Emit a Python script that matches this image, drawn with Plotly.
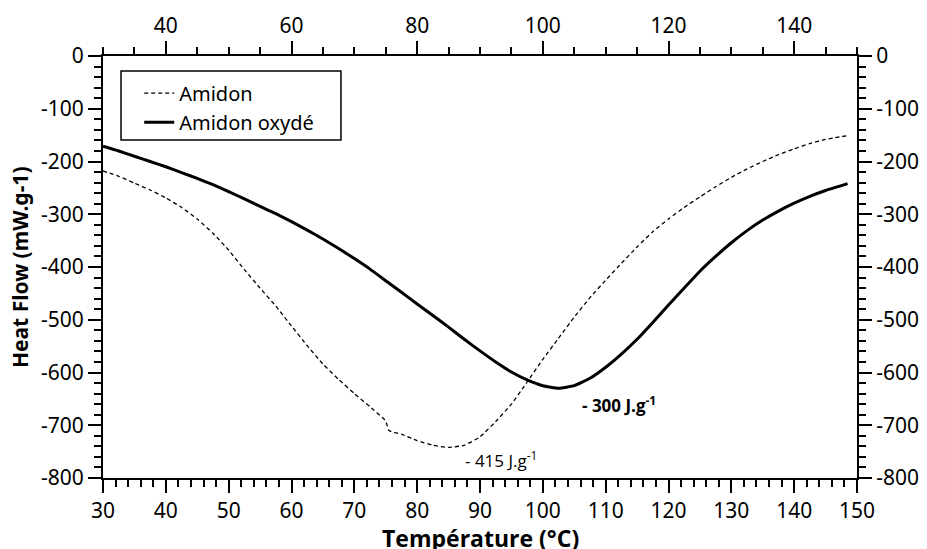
import plotly.graph_objects as go

# ---- data ----
temp_amidon = [30, 32.5, 35, 37.5, 40, 42.5, 45, 47.5, 50, 52.5, 55, 57.5, 60, 62.5, 65, 67.5,
               70, 72.5, 75, 75.5, 77.5, 80, 82.5, 85, 87.5, 90, 92.5, 95, 97.5, 100, 102.5,
               105, 107.5, 110, 112.5, 115, 117.5, 120, 122.5, 125, 127.5, 130, 132.5, 135,
               137.5, 140, 142.5, 145, 148.5]
hf_amidon = [-218, -228, -241, -254, -269, -287, -309, -336, -368, -405, -440, -474, -512, -549,
             -584, -613, -640, -665, -692, -710, -717, -729, -738, -742, -738, -722, -693, -660,
             -618, -575, -535, -495, -458, -425, -393, -362, -333, -309, -287, -267, -248, -230,
             -214, -200, -187, -176, -166, -158, -151]

temp_oxyde = [30, 32.5, 35, 37.5, 40, 42.5, 45, 47.5, 50, 52.5, 55, 57.5, 60, 62.5, 65, 67.5,
              70, 72.5, 75, 77.5, 80, 82.5, 85, 87.5, 90, 92.5, 95, 97.5, 100, 102.5, 105,
              107.5, 110, 112.5, 115, 117.5, 120, 122.5, 125, 127.5, 130, 132.5, 135, 137.5,
              140, 142.5, 145, 148.5]
hf_oxyde = [-171, -180, -190, -200, -210, -221, -232, -244, -257, -271, -285, -299, -314, -330,
            -347, -365, -384, -404, -426, -448, -470, -492, -514, -537, -559, -580, -599, -614,
            -625, -630, -625, -611, -590, -565, -537, -505, -472, -440, -408, -380, -354, -331,
            -311, -294, -279, -266, -255, -242]

x_range = [30, 150]
y_range = [-800, 0]
y_ticks = [0, -100, -200, -300, -400, -500, -600, -700, -800]
y_tick_labels = ['0', '-100', '-200', '-300', '-400', '-500', '-600', '-700', '-800']

series_names = ['Amidon', 'Amidon oxydé']
y_title = 'Heat Flow (mW.g-1)'
x_title = 'Température (°C)'
peak_labels = ['- 415 J.g<sup>-1</sup>', '<b>- 300 J.g<sup>-1</sup></b>']
peak_label_pos = [(87.3, -765), (105.9, -661)]

# ---- figure ----
fig = go.Figure()
fig.add_trace(go.Scatter(x=temp_amidon, y=hf_amidon, mode='lines', name=series_names[0],
                         line=dict(color='black', width=1.3, dash='4px,3px',
                                   shape='spline', smoothing=0.4)))
fig.add_trace(go.Scatter(x=temp_oxyde, y=hf_oxyde, mode='lines', name=series_names[1],
                         line=dict(color='black', width=3, shape='spline', smoothing=0.4)))
fig.add_trace(go.Scatter(x=[None], y=[None], xaxis='x2', yaxis='y2', showlegend=False,
                         hoverinfo='skip'))

tickfont = dict(family='Noto Sans', size=21, color='black')
common = dict(showline=True, linecolor='black', linewidth=2, ticks='outside', ticklen=13,
              tickwidth=2, tickcolor='black', showgrid=False, zeroline=False, tickfont=tickfont,
              automargin=False)
minor_common = dict(ticks='outside', ticklen=7, tickwidth=1.5, tickcolor='black', showgrid=False)

# the page body adds an 8px offset; margins compensate so the plot area lands where it should
fig.update_layout(
    width=927, height=549,
    margin=dict(l=95, r=78, t=48, b=79, autoexpand=False),
    paper_bgcolor='white', plot_bgcolor='white',
    xaxis=dict(range=x_range, tick0=30, dtick=10, minor=dict(dtick=2, tick0=30, **minor_common),
               **common),
    xaxis2=dict(range=x_range, overlaying='x', side='top', tick0=40, dtick=20,
                minor=dict(dtick=5, tick0=30, **minor_common), **common),
    yaxis=dict(range=y_range, tickmode='array', tickvals=y_ticks, ticktext=y_tick_labels,
               minor=dict(dtick=20, tick0=0, **minor_common), **common),
    yaxis2=dict(range=y_range, overlaying='y', side='right', tickmode='array', tickvals=y_ticks,
                ticktext=y_tick_labels, minor=dict(dtick=20, tick0=0, **minor_common), **common),
    legend=dict(x=0.048, y=0.958, xanchor='left', yanchor='top', bgcolor='rgba(0,0,0,0)',
                borderwidth=0, itemwidth=30,
                font=dict(family='Noto Sans', size=20, color='black')),
    showlegend=True,
    shapes=[dict(type='rect', xref='paper', yref='paper', x0=0.0239, x1=0.3156,
                 y0=0.801, y1=0.9645, line=dict(color='black', width=1.5),
                 fillcolor='rgba(0,0,0,0)', layer='above')],
)

fig.add_annotation(text='<b>' + y_title + '</b>', xref='paper', yref='paper', x=-0.110, y=0.5,
                   textangle=-90, showarrow=False, xanchor='center', yanchor='middle',
                   font=dict(family='Noto Sans', size=21, color='black'))
fig.add_annotation(text='<b>' + x_title + '</b>', xref='paper', yref='paper', x=0.5, y=-0.143,
                   showarrow=False, xanchor='center', yanchor='middle',
                   font=dict(family='Open Sans', size=23, color='black'))
for txt, (px, py) in zip(peak_labels, peak_label_pos):
    fig.add_annotation(text=txt, x=px, y=py, xref='x', yref='y', showarrow=False,
                       xanchor='left', yanchor='middle',
                       font=dict(family='Open Sans', size=17, color='black'))

fig.write_html('out.html')
